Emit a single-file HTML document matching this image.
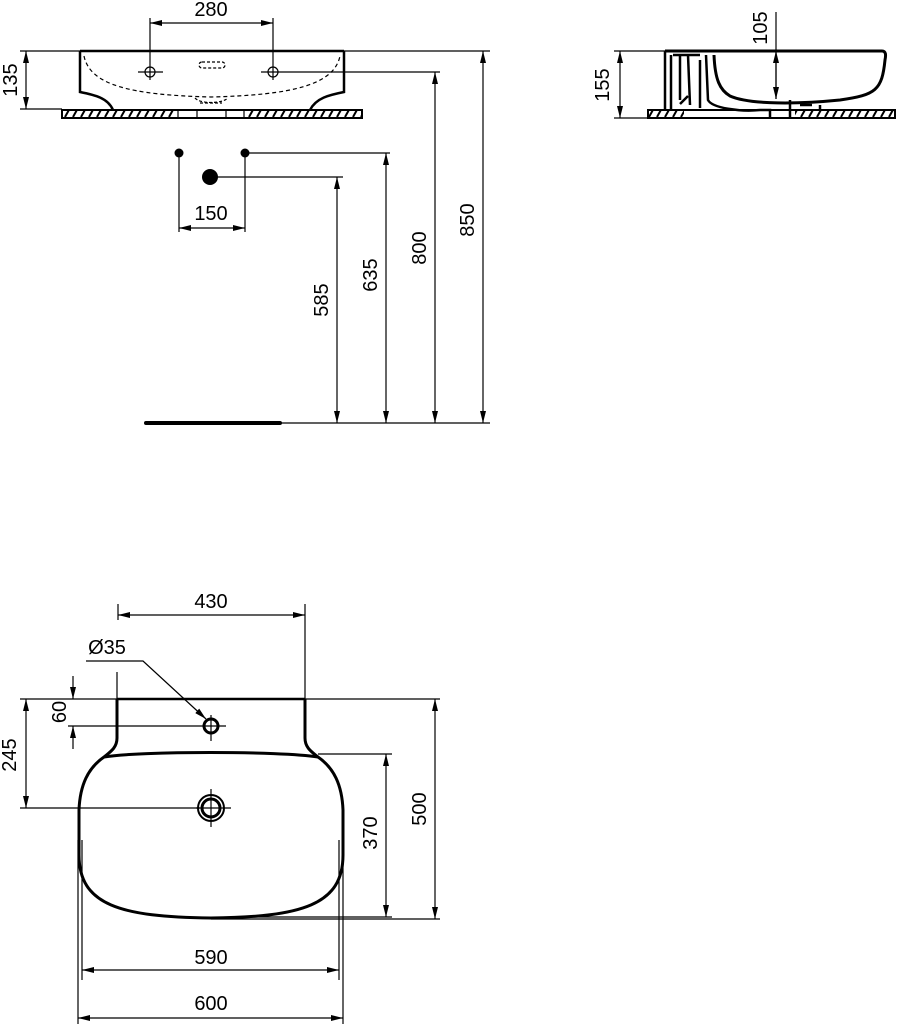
<!DOCTYPE html>
<html><head><meta charset="utf-8"><style>
html,body{margin:0;padding:0;background:#fff;}
svg{display:block;}
text{font-family:"Liberation Sans",sans-serif;font-size:20px;fill:#000;}
</style></head><body>
<svg width="902" height="1024" viewBox="0 0 902 1024" xmlns="http://www.w3.org/2000/svg">
<defs>
<marker id="a" viewBox="0 0 12 6" refX="12" refY="3" markerWidth="12" markerHeight="6" orient="auto-start-reverse" markerUnits="userSpaceOnUse"><path d="M0,0 L12,3 L0,6 Z" fill="#000"/></marker>
<pattern id="h" width="8" height="9" patternUnits="userSpaceOnUse"><path d="M1,9 L6,0" stroke="#000" stroke-width="2"/></pattern>
</defs>
<g stroke="#000" fill="none" stroke-width="1.2">
<!-- FRONT VIEW -->
<path d="M80,51 L344,51" stroke-width="2.5"/>
<path d="M80,51 L80,92 C95,95 108,98 113,110 M344,51 L344,92 C329,95 316,98 310,110" stroke-width="2.5"/>
<path d="M84,56 C90,85 130,95 211,97 C292,95 334,85 340,56" stroke-dasharray="4,3"/>
<path d="M195,98 C200,104 222,104 228,98 M200,103 L222,103" stroke-dasharray="3,2"/>
<rect x="199" y="62" width="26" height="6" rx="3" stroke-dasharray="3,2"/>
<rect x="62" y="110" width="300" height="8" stroke-width="2"/>
<rect x="62" y="110" width="114" height="8" fill="url(#h)" stroke="none"/>
<rect x="246" y="110" width="116" height="8" fill="url(#h)" stroke="none"/>
<path d="M178,110 L178,118 M244,110 L244,118 M197,110 L197,119 M226,110 L226,119"/>
<circle cx="150" cy="72" r="5"/><circle cx="273" cy="72" r="5"/>
<path d="M138,72 L163,72 M261,72 L440,72"/>
<path d="M150,18 L150,80 M273,18 L273,80"/>
<path d="M150,23 L273,23" marker-start="url(#a)" marker-end="url(#a)"/>
<path d="M20,51 L80,51 M20,109 L62,109 M344,51 L490,51"/>
<path d="M26,51 L26,109" marker-start="url(#a)" marker-end="url(#a)"/>
<path d="M179,153 L179,232 M245,153 L245,232 M245,153 L390,153 M210,177 L343,177"/>
<path d="M179,228 L245,228" marker-start="url(#a)" marker-end="url(#a)"/>
<path d="M337,177 L337,423" marker-start="url(#a)" marker-end="url(#a)"/>
<path d="M386,153 L386,423" marker-start="url(#a)" marker-end="url(#a)"/>
<path d="M435,72 L435,423" marker-start="url(#a)" marker-end="url(#a)"/>
<path d="M483,51 L483,423" marker-start="url(#a)" marker-end="url(#a)"/>
<path d="M145,423 L490,423"/>
<path d="M146,423 L280,423" stroke-width="4" stroke-linecap="round"/>
<!-- SIDE VIEW -->
<path d="M665,51 L882,51 C886,51 886,55 885,60 C882,90 876,95 840,100 C800,104 750,105 730,96 C720,90 715,80 714,55" stroke-width="3"/>
<path d="M665,51 L665,110 M671,55 L671,110 M680,55 L680,100 M688,55 L690,105 M700,60 L700,108 M706,55 L708,100 C712,108 740,112 760,110 L770,110 L770,118 M790,100 L790,118 M800,105 L812,105 M820,105 L820,110" stroke-width="2.5"/>
<path d="M673,55 L700,55 M688,96 L680,104" stroke-width="2.5"/>
<rect x="648" y="110" width="247" height="8" stroke-width="2"/>
<rect x="649" y="111" width="35" height="6" fill="url(#h)" stroke="none"/>
<rect x="795" y="111" width="99" height="6" fill="url(#h)" stroke="none"/>
<path d="M614,51 L665,51 M614,118 L648,118"/>
<path d="M620,51 L620,118" marker-start="url(#a)" marker-end="url(#a)"/>
<path d="M776,12 L776,99"/>
<path d="M776,51 L776,99" marker-start="url(#a)" marker-end="url(#a)"/>
<!-- PLAN VIEW -->
<path d="M117,699 L305,699" stroke-width="2.5"/>
<path d="M117,699 L117,738 C117,748 110,752 104,757 C88,768 80,785 79,810 L79,855 C79,905 120,917 211,918 C302,917 343,905 343,855 L343,810 C342,785 334,768 318,757 C312,752 305,748 305,738 L305,699" stroke-width="3"/>
<path d="M104,757 C140,751 280,751 318,757" stroke-width="3"/>
<path d="M117,672 L117,699 M305,604 L305,699"/>
<path d="M118,604 L118,620"/>
<path d="M118,615 L305,615" marker-start="url(#a)" marker-end="url(#a)"/>
<circle cx="211" cy="726" r="7" stroke-width="3"/>
<path d="M200,726 L226,726 M211,715 L211,741"/>
<path d="M86,661 L143,661 L206,719" marker-end="url(#a)"/>
<circle cx="211" cy="808" r="13" stroke-width="2"/><circle cx="211" cy="808" r="9" stroke-width="3"/>
<path d="M196,808 L231,808 M211,789 L211,827"/>
<path d="M20,699 L440,699 M68,726 L200,726 M20,808 L200,808"/>
<path d="M73,676 L73,699" marker-end="url(#a)"/>
<path d="M73,749 L73,726" marker-end="url(#a)"/>
<path d="M26,699 L26,808" marker-start="url(#a)" marker-end="url(#a)"/>
<path d="M318,754 L392,754 M211,919 L440,919 M250,917 L392,917"/>
<path d="M386,754 L386,917" marker-start="url(#a)" marker-end="url(#a)"/>
<path d="M435,699 L435,919" marker-start="url(#a)" marker-end="url(#a)"/>
<path d="M82,840 L82,980 M339,840 L339,980 M78,840 L78,1024 M343,840 L343,1024"/>
<path d="M82,970 L339,970" marker-start="url(#a)" marker-end="url(#a)"/>
<path d="M78,1018 L343,1018" marker-start="url(#a)" marker-end="url(#a)"/>
</g>
<g fill="#000" stroke="none">
<circle cx="179" cy="153" r="4.5"/><circle cx="245" cy="153" r="4.5"/><circle cx="210" cy="177" r="8"/>
</g>
<g text-anchor="middle">
<text x="211" y="16">280</text>
<text x="211" y="220">150</text>
<text transform="translate(17,80) rotate(-90)">135</text>
<text transform="translate(328,300) rotate(-90)">585</text>
<text transform="translate(377,275) rotate(-90)">635</text>
<text transform="translate(426,248) rotate(-90)">800</text>
<text transform="translate(474,220) rotate(-90)">850</text>
<text transform="translate(609,85) rotate(-90)">155</text>
<text transform="translate(767,28) rotate(-90)">105</text>
<text x="211" y="608">430</text>
<text x="107" y="654">Ø35</text>
<text transform="translate(66,712) rotate(-90)">60</text>
<text transform="translate(16,755) rotate(-90)">245</text>
<text transform="translate(377,833) rotate(-90)">370</text>
<text transform="translate(426,809) rotate(-90)">500</text>
<text x="211" y="964">590</text>
<text x="211" y="1010">600</text>
</g>
</svg>
</body></html>
